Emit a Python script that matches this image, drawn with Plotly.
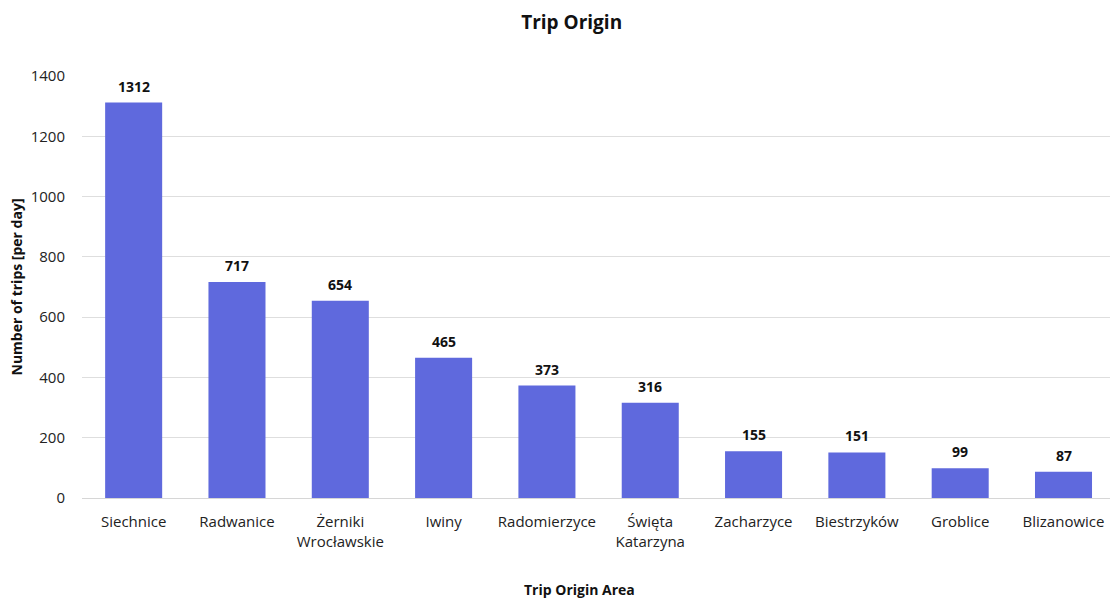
import plotly.graph_objects as go

areas = ["Siechnice", "Radwanice", "Żerniki<br>Wrocławskie", "Iwiny", "Radomierzyce",
         "Święta<br>Katarzyna", "Zacharzyce", "Biestrzyków", "Groblice", "Blizanowice"]
trips = [1312, 717, 654, 465, 373, 316, 155, 151, 99, 87]
y_ticks = [0, 200, 400, 600, 800, 1000, 1200, 1400]

FONT = "Open Sans"

fig = go.Figure(go.Bar(
    x=areas,
    y=trips,
    marker=dict(color="#5f69dd", line=dict(width=0)),
    cliponaxis=False,
))

# value labels above each bar
for name, v in zip(areas, trips):
    fig.add_annotation(
        x=name, y=v, text=f"<b>{v}</b>", showarrow=False,
        yanchor="bottom", yshift=5,
        font=dict(family=FONT, size=14, color="#111111"),
    )

# x-axis title, placed under the chart
fig.add_annotation(
    xref="paper", yref="paper", x=0.4844, y=-0.218,
    xanchor="center", yanchor="middle", showarrow=False,
    text="<b>Trip Origin Area</b>", font=dict(family=FONT, size=14, color="#111111"),
)

fig.update_layout(
    width=1110, height=601,
    margin=dict(l=82, r=0, t=76, b=103),
    paper_bgcolor="white", plot_bgcolor="white",
    bargap=0.448,
    font=dict(family=FONT, size=15, color="#222222"),
    title=dict(text="<b>Trip Origin</b>", x=0.515, xanchor="center", y=0.963, yanchor="middle",
               font=dict(family=FONT, size=19, color="#111111")),
    showlegend=False,
    xaxis=dict(
        tickfont=dict(size=15), showline=True, linecolor="#d6d6d6", linewidth=1,
        ticks="", showgrid=False, ticklabelstandoff=10,
        range=[-0.5, 9.45],
    ),
    yaxis=dict(
        range=[0, 1400], tickvals=y_ticks, showgrid=True, gridcolor="#dedede", gridwidth=1,
        zeroline=False, tickfont=dict(size=15), ticks="", ticklabelstandoff=16,
        title=dict(text="<b>Number of trips [per day]</b>", font=dict(size=14, color="#111111"), standoff=4),
    ),
)

fig.write_html("out.html")
